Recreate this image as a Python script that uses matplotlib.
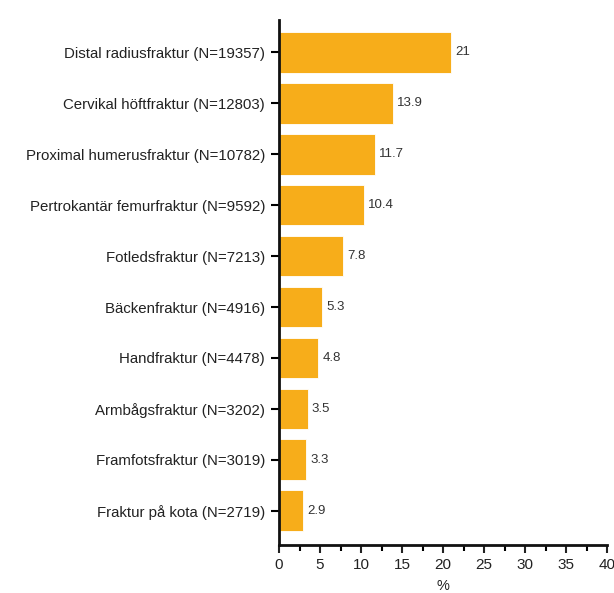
import matplotlib
matplotlib.use("Agg")
import matplotlib.pyplot as plt
from matplotlib.ticker import MultipleLocator

plt.rcParams["font.family"] = ["Liberation Sans", "DejaVu Sans"]

CATEGORIES = [
    "Distal radiusfraktur (N=19357)",
    "Cervikal höftfraktur (N=12803)",
    "Proximal humerusfraktur (N=10782)",
    "Pertrokantär femurfraktur (N=9592)",
    "Fotledsfraktur (N=7213)",
    "Bäckenfraktur (N=4916)",
    "Handfraktur (N=4478)",
    "Armbågsfraktur (N=3202)",
    "Framfotsfraktur (N=3019)",
    "Fraktur på kota (N=2719)",
]
PERCENT = [21, 13.9, 11.7, 10.4, 7.8, 5.3, 4.8, 3.5, 3.3, 2.9]
LABELS = ["21", "13.9", "11.7", "10.4", "7.8", "5.3", "4.8", "3.5", "3.3", "2.9"]

BAR_COLOR = "#F7AD1A"

fig = plt.figure(figsize=(6.14, 5.93), dpi=100)
ax = fig.add_axes([0.4544, 0.081, 0.5342, 0.885])

pos = list(range(len(CATEGORIES)))
ax.barh(pos, PERCENT, height=0.8, color=BAR_COLOR, edgecolor="white", linewidth=0.6)
for p, v, s in zip(pos, PERCENT, LABELS):
    ax.text(v + 0.5, p, s, va="center", ha="left", fontsize=9.5, color="#333333")

ax.set_yticks(pos)
ax.set_yticklabels(CATEGORIES, fontsize=10.8, color="#222222")
ax.set_ylim(9.67, -0.63)
ax.set_xlim(0, 40)
ax.xaxis.set_major_locator(MultipleLocator(5))
ax.xaxis.set_minor_locator(MultipleLocator(2.5))
ax.tick_params(axis="x", labelsize=11, length=6, width=1.5, colors="#222222")
ax.tick_params(axis="x", which="minor", length=4, width=1.5)
ax.tick_params(axis="y", length=6, width=1.5, pad=4)
ax.set_xlabel("%", fontsize=10.5, labelpad=5, color="#222222")

for side in ("top", "right"):
    ax.spines[side].set_visible(False)
for side in ("left", "bottom"):
    ax.spines[side].set_linewidth(2)
    ax.spines[side].set_color("#111111")

fig.savefig("out.png", dpi=100)
